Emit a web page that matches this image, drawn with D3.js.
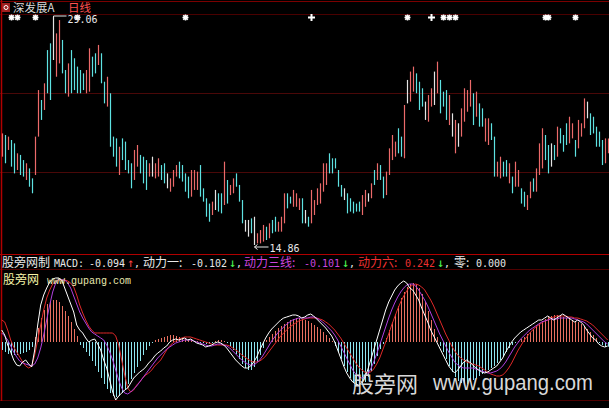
<!DOCTYPE html>
<html><head><meta charset="utf-8">
<script src="https://cdn.jsdelivr.net/npm/d3@7"></script>
<style>html,body{margin:0;padding:0;background:#000;}svg{display:block;}</style>
</head><body>
<script>
// ---------- DATA ----------
const highs = [21.81,21.71,21.61,21.40,21.19,20.57,20.47,20.15,19.95,19.63,19.01,21.61,24.51,23.89,24.93,27.00,27.42,29.06,28.04,28.87,27.63,25.76,26.17,27.00,26.49,25.97,25.76,25.55,25.76,27.11,26.59,26.80,27.32,26.80,25.03,25.34,24.31,21.61,21.50,20.98,21.50,21.30,20.15,19.95,20.78,21.09,20.47,20.36,20.15,19.95,
20.36,19.95,20.26,19.84,19.95,19.32,19.01,19.53,19.84,20.05,19.84,19.32,19.12,19.53,19.53,19.43,19.84,18.39,17.77,17.44,17.56,18.29,18.08,18.08,20.05,18.91,18.60,19.01,19.32,18.60,17.66,16.42,16.42,16.52,16.62,15.59,15.79,16.11,16.00,16.21,16.42,16.62,16.31,16.62,18.08,18.08,17.87,18.29,18.08,17.77,
17.77,17.04,16.62,18.29,17.66,18.39,18.70,19.95,19.95,20.57,20.26,20.26,19.53,18.60,18.39,18.08,17.77,17.56,17.44,17.56,17.97,18.29,18.08,18.70,19.53,19.95,19.84,19.12,19.43,20.88,21.71,21.30,22.13,21.61,23.58,25.14,25.66,25.97,25.55,25.03,24.62,23.79,24.20,24.62,25.66,26.28,25.14,24.41,24.51,24.20,
23.06,22.65,22.44,23.37,24.62,24.51,25.14,24.31,24.41,23.68,23.37,22.75,22.75,22.44,21.61,20.05,20.36,20.05,20.15,19.95,19.12,20.05,19.53,18.39,18.18,17.97,18.81,19.01,19.63,21.19,22.13,21.71,21.09,21.19,21.09,22.23,22.13,21.71,22.44,22.85,22.44,21.40,22.65,22.44,23.99,23.79,23.06,22.85,22.23,21.92,21.40,21.50,21.50];
const lows = [20.36,19.95,20.78,19.74,19.32,19.53,19.22,19.12,18.91,18.49,18.08,19.22,21.61,22.65,23.27,24.31,23.89,26.38,25.34,26.17,25.55,24.31,24.10,24.31,24.51,24.31,24.31,24.51,24.31,24.41,25.34,25.55,26.07,24.93,23.68,23.48,20.98,20.36,19.74,19.22,20.15,19.53,19.32,18.39,18.91,19.74,19.32,18.70,18.29,19.12,
19.12,19.01,19.12,18.91,18.70,18.39,18.18,18.49,19.12,19.01,18.81,18.18,17.77,17.87,18.29,18.29,17.87,17.56,16.62,16.31,16.73,17.04,16.94,16.83,17.35,17.44,17.97,18.08,18.49,17.56,16.21,15.69,15.38,15.59,14.86,14.96,14.96,15.07,15.17,15.28,15.59,15.69,15.69,15.69,16.21,17.14,17.44,17.24,17.24,17.04,
16.21,16.21,16.00,16.21,16.73,17.35,17.44,18.18,18.60,19.32,19.32,19.63,18.49,17.87,17.66,16.83,16.94,16.83,16.94,16.94,16.73,17.24,17.56,17.77,18.60,18.91,18.91,17.77,17.97,19.22,20.15,20.36,20.57,20.36,20.26,23.68,23.79,24.41,24.31,23.27,23.48,22.65,22.54,23.48,23.58,24.31,23.06,23.48,22.65,22.33,
21.61,20.57,20.98,21.61,22.54,23.16,23.48,22.33,22.85,22.23,22.23,21.30,21.09,21.40,19.12,19.12,19.01,19.12,19.12,18.70,18.08,18.49,18.49,17.44,17.24,17.04,17.77,18.18,18.18,19.22,19.63,20.15,19.32,19.74,20.15,20.36,21.19,20.67,21.09,21.19,21.50,20.36,20.88,21.61,22.13,22.75,21.71,21.81,20.98,20.98,19.84,19.95,20.57];
// 1 = up (red), -1 = down (cyan), 0 = flat (white)
const dirs = [1,-1,1,-1,-1,1,-1,-1,1,-1,-1,1,1,-1,1,-1,-1,0,1,1,-1,-1,1,-1,-1,-1,-1,-1,1,1,-1,-1,1,-1,-1,1,-1,-1,-1,1,-1,-1,-1,-1,1,1,-1,-1,-1,1,
0,1,1,-1,-1,0,1,1,1,-1,-1,-1,-1,1,1,1,-1,-1,-1,-1,1,0,-1,-1,1,-1,1,1,-1,-1,-1,0,0,-1,0,1,1,1,-1,1,-1,-1,1,1,1,-1,-1,1,1,1,
-1,0,-1,1,1,1,1,1,1,-1,-1,-1,-1,-1,0,-1,-1,-1,-1,-1,1,1,0,1,-1,1,-1,-1,1,1,1,1,-1,-1,1,0,1,1,-1,-1,-1,0,1,1,0,1,-1,-1,-1,1,
0,1,0,1,1,1,1,-1,1,-1,-1,1,1,-1,-1,1,1,-1,-1,1,-1,1,1,-1,-1,1,1,-1,1,1,1,-1,-1,0,-1,1,-1,-1,-1,1,1,-1,1,1,1,0,-1,-1,-1,-1,-1,1,1];
const barIndex = d3.range(highs.length);
const starMarks = [3,5,11,25,61,135,147,149,151,181,182,191];
const plusMarks = [103,143];

// MACD panel series
const histValues = [-0.16,-0.2,-0.24,-0.26,-0.26,-0.26,-0.24,-0.22,-0.2,-0.16,-0.1,
0.1,0.28,0.48,0.64,0.76,0.82,0.84,0.84,0.8,0.72,0.62,0.52,0.4,0.26,0.12,
-0.06,-0.12,-0.2,-0.28,-0.38,-0.48,-0.6,-0.72,-0.84,-0.94,-1.02,-1.08,-1.1,-1.08,-1.02,-0.94,-0.84,-0.74,-0.62,-0.5,-0.38,-0.26,-0.16,-0.08,-0.02,
0.04,0.06,0.08,0.1,0.12,0.14,0.14,0.12,0.1,0.08,0.06,0.04,0.04,0.02,0.02,-0.02,
-0.02,-0.04,-0.04,-0.02,0.02,0.04,0.04,0.02,-0.02,
-0.08,-0.16,-0.24,-0.34,-0.44,-0.52,-0.56,-0.56,-0.5,-0.4,-0.26,-0.12,
0.04,0.1,0.16,0.22,0.28,0.32,0.36,0.4,0.44,0.46,0.48,0.48,0.46,0.44,0.42,0.38,0.34,0.3,0.26,0.2,0.14,0.08,0.02,
-0.08,-0.2,-0.34,-0.48,-0.6,-0.72,-0.8,-0.86,-0.88,-0.86,-0.8,-0.7,-0.58,-0.44,-0.28,-0.14,-0.04,
0.08,0.24,0.4,0.56,0.72,0.88,1.0,1.1,1.16,1.18,1.16,1.08,0.96,0.8,0.62,0.44,0.26,0.1,
-0.08,-0.2,-0.34,-0.48,-0.6,-0.7,-0.78,-0.82,-0.84,-0.84,-0.8,-0.76,-0.72,-0.68,-0.64,-0.6,-0.56,-0.52,-0.48,-0.42,-0.36,-0.28,-0.2,-0.12,-0.06,
-0.02,0.02,0.06,0.1,0.16,0.2,
0.26,0.32,0.38,0.42,0.46,0.5,0.52,0.54,0.54,0.52,0.5,0.48,0.46,0.44,0.42,0.4,0.36,0.32,0.26,0.2,0.14,0.08,
-0.02,-0.06,-0.1,-0.094];
const macdLine = [0.24,0.14,-0.06,-0.2,-0.36,-0.46,-0.48,-0.4,-0.36,-0.44,-0.5,
-0.16,0.34,0.74,0.94,1.08,1.2,1.26,1.28,1.28,1.24,1.08,0.92,0.76,0.6,0.34,
0.24,0.18,0.08,0,0.04,0.06,-0.04,-0.16,-0.36,-0.52,-0.76,-1.0,-1.16,-1.08,-1.02,-0.96,-0.92,-0.82,-0.72,-0.66,-0.6,-0.56,-0.5,-0.42,-0.36,-0.28,-0.22,-0.18,-0.12,-0.08,0,0.04,0.06,0.04,0.06,0.08,0.04,0.06,0.02,-0.02,-0.04,
-0.06,-0.1,-0.08,-0.06,-0.02,0,-0.02,-0.06,-0.12,
-0.2,-0.28,-0.36,-0.42,-0.48,-0.52,-0.52,-0.48,-0.4,-0.3,-0.16,-0.04,
0.08,0.18,0.26,0.32,0.38,0.44,0.48,0.5,0.52,0.54,0.54,0.52,0.48,0.5,0.54,0.56,0.52,0.46,0.4,0.34,0.28,0.2,0.12,
0,-0.16,-0.32,-0.48,-0.62,-0.72,-0.8,-0.84,-0.86,-0.82,-0.72,-0.56,-0.36,-0.16,0.04,0.24,0.44,
0.64,0.8,0.92,1.04,1.12,1.18,1.22,1.18,1.08,1.04,0.94,0.84,0.68,0.54,0.4,0.24,0.12,0,
-0.12,-0.24,-0.36,-0.48,-0.56,-0.62,-0.56,-0.48,-0.4,-0.36,-0.4,-0.46,-0.52,-0.56,-0.6,-0.62,-0.6,-0.56,-0.52,-0.48,-0.4,-0.32,-0.2,-0.1,0,
0.08,0.14,0.2,0.24,0.28,0.32,
0.36,0.4,0.44,0.44,0.48,0.52,0.48,0.44,0.48,0.52,0.56,0.52,0.48,0.44,0.4,0.44,0.4,0.34,0.24,0.16,0.08,0.04,
-0.04,-0.08,-0.1,-0.08];
const power3Line = [0.18,0.12,0.04,-0.08,-0.2,-0.3,-0.38,-0.42,-0.44,-0.46,-0.48,
-0.44,-0.32,-0.12,0.14,0.44,0.74,1.0,1.18,1.26,1.24,1.24,1.18,1.08,0.92,0.76,
0.6,0.48,0.38,0.28,0.2,0.16,0.12,0.08,0.04,-0.06,-0.2,-0.36,-0.56,-0.76,-0.92,-1.02,-1.04,-1.0,-0.94,-0.88,-0.8,-0.72,-0.64,-0.56,-0.48,
-0.4,-0.32,-0.26,-0.2,-0.14,-0.1,-0.06,-0.02,0,0.02,0.04,0.04,0.04,0.02,0,-0.02,
-0.04,-0.06,-0.08,-0.08,-0.06,-0.04,-0.04,-0.06,-0.08,
-0.12,-0.18,-0.24,-0.3,-0.36,-0.4,-0.44,-0.46,-0.46,-0.42,-0.36,-0.28,
-0.18,-0.08,0.02,0.1,0.18,0.24,0.3,0.36,0.4,0.44,0.46,0.48,0.48,0.48,0.48,0.5,0.5,0.48,0.44,0.4,0.34,0.28,0.22,
0.14,0.04,-0.08,-0.2,-0.32,-0.44,-0.56,-0.64,-0.7,-0.72,-0.7,-0.64,-0.54,-0.4,-0.24,-0.06,0.12,
0.3,0.48,0.64,0.78,0.9,1.0,1.08,1.14,1.16,1.16,1.12,1.04,0.94,0.84,0.72,0.58,0.44,0.3,
0.16,0.04,-0.08,-0.2,-0.3,-0.4,-0.46,-0.5,-0.52,-0.52,-0.52,-0.52,-0.54,-0.56,-0.58,-0.6,-0.62,-0.62,-0.6,-0.58,-0.54,-0.48,-0.4,-0.3,-0.2,
-0.1,-0.02,0.06,0.12,0.18,0.24,
0.28,0.32,0.36,0.4,0.42,0.44,0.46,0.46,0.46,0.48,0.48,0.48,0.48,0.48,0.46,0.44,0.42,0.4,0.36,0.3,0.24,0.18,
0.12,0.06,0,-0.04];
const power6Line = [0.44,0.4,0.24,0.04,-0.1,-0.2,-0.3,-0.4,-0.48,-0.52,-0.48,
-0.26,0.04,0.34,0.64,0.88,1.04,1.16,1.22,1.24,1.24,1.24,1.22,1.18,1.1,0.94,
0.74,0.58,0.44,0.32,0.24,0.18,0.18,0.18,0.18,0.18,0.18,0.18,0.12,-0.06,-0.36,-0.66,-0.92,-1.0,-0.96,-0.86,-0.8,-0.72,-0.66,-0.62,-0.56,
-0.48,-0.42,-0.36,-0.26,-0.16,-0.08,-0.02,0.02,0.06,0.08,0.1,0.1,0.1,0.08,0.06,0.04,
0.02,0,-0.02,-0.04,-0.06,-0.06,-0.06,-0.06,-0.06,
-0.08,-0.12,-0.16,-0.2,-0.26,-0.3,-0.34,-0.38,-0.4,-0.4,-0.38,-0.34,
-0.28,-0.2,-0.12,-0.04,0.04,0.12,0.18,0.24,0.3,0.34,0.38,0.42,0.44,0.46,0.48,0.48,0.48,0.48,0.46,0.44,0.4,0.36,0.3,
0.24,0.16,0.08,-0.02,-0.12,-0.22,-0.32,-0.42,-0.5,-0.56,-0.6,-0.62,-0.6,-0.54,-0.44,-0.32,-0.16,
0,0.16,0.34,0.5,0.66,0.8,0.92,1.02,1.1,1.14,1.16,1.14,1.1,1.04,0.94,0.84,0.72,0.58,
0.44,0.3,0.16,0.04,-0.08,-0.18,-0.26,-0.32,-0.36,-0.4,-0.42,-0.44,-0.46,-0.48,-0.52,-0.56,-0.6,-0.64,-0.66,-0.68,-0.68,-0.66,-0.6,-0.52,-0.42,
-0.3,-0.18,-0.08,0.02,0.1,0.18,
0.24,0.3,0.34,0.38,0.42,0.44,0.48,0.5,0.52,0.52,0.52,0.52,0.5,0.5,0.48,0.48,0.46,0.44,0.42,0.38,0.34,0.28,
0.22,0.16,0.1,0.04];

const titleName = "深发展A", titlePeriod = "日线";
const highLabel = "29.06", lowLabel = "14.86";
const legendParts = [
  {t:"股旁网制", c:"#e8e8e8", x:2},
  {t:"MACD:", c:"#e8e8e8", x:54},
  {t:"-0.094", c:"#e8e8e8", x:89},
  {t:"↑", c:"#ff4040", x:127},
  {t:",", c:"#e8e8e8", x:134},
  {t:"动力一:", c:"#e8e8e8", x:143},
  {t:"-0.102", c:"#e8e8e8", x:191},
  {t:"↓", c:"#50ff50", x:229},
  {t:",", c:"#e8e8e8", x:236},
  {t:"动力三线:", c:"#cc44dd", x:244},
  {t:"-0.101", c:"#cc44dd", x:304},
  {t:"↓", c:"#50ff50", x:342},
  {t:",", c:"#e8e8e8", x:349},
  {t:"动力六:", c:"#ee3030", x:358},
  {t:"0.242", c:"#ee3030", x:405},
  {t:"↓", c:"#50ff50", x:437},
  {t:",", c:"#e8e8e8", x:444},
  {t:"零:", c:"#e8e8e8", x:454},
  {t:"0.000", c:"#e8e8e8", x:476}
];

// ---------- DRAW ----------
const W = 609, H = 408;
const svg = d3.select("body").append("svg").attr("width", W).attr("height", H)
  .style("background", "#000");
const x = d3.scalePoint().domain(barIndex).range([1.7, 607.7]);
const y = d3.scaleLinear().domain([14.86, 29.06]).range([245, 17]);
const ym = d3.scaleLinear().domain([-1.2, 1.2]).range([402, 282]);
const px = i => Math.round(x(i)) + 0.5;
const colUp = "#ec6a6a", colDn = "#5ee2e2", colFlat = "#e4e4e4";

// frame & grid
const hl = (yy, c) => svg.append("line").attr("x1", 0).attr("x2", W)
  .attr("y1", yy).attr("y2", yy).attr("stroke", c).attr("stroke-width", 1);
hl(1.5, "#7a0000"); hl(14.5, "#4a0000"); hl(93.5, "#4a0808"); hl(172.5, "#4a0808");
hl(254.5, "#b00000"); hl(269.5, "#500000"); hl(400.5, "#500000");
svg.append("line").attr("x1", 1.5).attr("x2", 1.5).attr("y1", 0).attr("y2", 401)
  .attr("stroke", "#b00000").attr("stroke-width", 1.5);

// price bars
svg.append("g").selectAll("line").data(barIndex).join("line")
  .attr("x1", px).attr("x2", px)
  .attr("y1", i => y(highs[i])).attr("y2", i => y(lows[i]))
  .attr("stroke", i => dirs[i] > 0 ? colUp : dirs[i] < 0 ? colDn : colFlat)
  .attr("stroke-width", 1.2);

// markers
const mg = svg.append("g").attr("stroke", "#fff").attr("stroke-width", 1.6);
starMarks.forEach(i => {
  const cx = px(i), cy = 17.5, r = 3;
  mg.append("path").attr("d",
    `M${cx - r},${cy}H${cx + r}M${cx},${cy - r}V${cy + r}M${cx - r * .75},${cy - r * .75}L${cx + r * .75},${cy + r * .75}M${cx - r * .75},${cy + r * .75}L${cx + r * .75},${cy - r * .75}`);
});
plusMarks.forEach(i => {
  const cx = px(i), cy = 17.5, r = 3.5;
  mg.append("path").attr("stroke-width", 2).attr("d", `M${cx - r},${cy}H${cx + r}M${cx},${cy - r}V${cy + r}`);
});

// high/low labels
const iHigh = highs.indexOf(d3.max(highs)), iLow = lows.indexOf(d3.min(lows));
svg.append("path").attr("stroke", "#e8e8e8").attr("fill", "none")
  .attr("d", `M${px(iHigh)},${y(highs[iHigh]) + 3}V${y(highs[iHigh]) - 1}H${px(iHigh) + 13}`);
svg.append("text").attr("x", px(iHigh) + 14).attr("y", y(highs[iHigh]) + 6)
  .attr("fill", "#e8e8e8").attr("font-family", "DejaVu Sans Mono").attr("font-size", 10).text(highLabel);
svg.append("path").attr("stroke", "#e8e8e8").attr("fill", "none")
  .attr("d", `M${px(iLow)},${y(lows[iLow]) + 2}H${px(iLow) + 14}M${px(iLow)},${y(lows[iLow]) + 2}l3,-2.5M${px(iLow)},${y(lows[iLow]) + 2}l3,2.5`);
svg.append("text").attr("x", px(iLow) + 15).attr("y", y(lows[iLow]) + 7)
  .attr("fill", "#e8e8e8").attr("font-family", "DejaVu Sans Mono").attr("font-size", 10).text(lowLabel);

// title
svg.append("rect").attr("x", 2).attr("y", 3).attr("width", 8).attr("height", 9).attr("fill", "#a02020");
svg.append("circle").attr("cx", 6).attr("cy", 7.5).attr("r", 2).attr("fill", "none").attr("stroke", "#fff");
svg.append("text").attr("x", 13).attr("y", 12).attr("fill", "#d8d8d8")
  .attr("font-family", "Noto Sans CJK SC").attr("font-size", 11.5).text(titleName);
svg.append("text").attr("x", 68).attr("y", 12).attr("fill", "#ff5050")
  .attr("font-family", "Noto Sans CJK SC").attr("font-size", 11.5).text(titlePeriod);

// legend
svg.append("g").selectAll("text").data(legendParts).join("text")
  .attr("x", d => d.x).attr("y", 266.5).attr("fill", d => d.c)
  .attr("font-family", d => /[\u4e00-\u9fff]/.test(d.t) ? "Noto Sans CJK SC" : "DejaVu Sans Mono")
  .attr("font-size", d => /[\u4e00-\u9fff↑↓]/.test(d.t) ? 12 : 10)
  .text(d => d.t);

// MACD histogram
svg.append("g").selectAll("line").data(barIndex).join("line")
  .attr("x1", px).attr("x2", px)
  .attr("y1", ym(0)).attr("y2", i => ym(histValues[i]))
  .attr("stroke", i => histValues[i] >= 0 ? "#e87060" : "#8ee6f0").attr("stroke-width", 1);

// MACD lines
const lineGen = arr => d3.line().x(i => x(i)).y(i => ym(arr[i]))(barIndex);
svg.append("path").attr("d", lineGen(power6Line)).attr("fill", "none").attr("stroke", "#e02828").attr("stroke-width", 1);
svg.append("path").attr("d", lineGen(power3Line)).attr("fill", "none").attr("stroke", "#b040e0").attr("stroke-width", 1);
svg.append("path").attr("d", lineGen(macdLine)).attr("fill", "none").attr("stroke", "#ffffff").attr("stroke-width", 1);

// watermarks
svg.append("text").attr("x", 3).attr("y", 284).attr("fill", "#f4f4a8")
  .attr("font-family", "Noto Sans CJK SC").attr("font-size", 12).text("股旁网");
svg.append("text").attr("x", 47).attr("y", 284).attr("fill", "#e8e8b0")
  .attr("font-family", "Liberation Mono").attr("font-size", 10).text("www.gupang.com");
svg.append("text").attr("x", 352).attr("y", 392).attr("fill", "#d8d8d8")
  .attr("font-family", "Noto Sans CJK SC").attr("font-size", 22).text("股旁网");
svg.append("text").attr("x", 433).attr("y", 390).attr("fill", "#d8d8d8")
  .attr("font-family", "Liberation Sans").attr("font-size", 22)
  .attr("textLength", 160).attr("lengthAdjust", "spacingAndGlyphs").text("www.gupang.com");
</script>
</body></html>
